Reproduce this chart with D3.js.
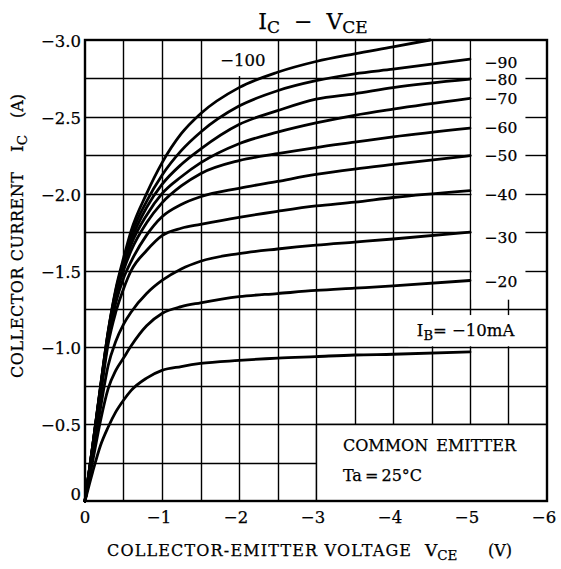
<!DOCTYPE html>
<html><head><meta charset="utf-8">
<script src="https://cdn.jsdelivr.net/npm/d3@7"></script>
<style>
body{margin:0;background:#fff}
svg text{font-family:"DejaVu Serif","Liberation Serif",serif;fill:#000;stroke:#000;stroke-width:0.25}
</style>
</head><body>
<svg id="chart" width="561" height="569"></svg>
<script>
// ---------- data ----------
const vce = [0,0.1,0.2,0.3,0.4,0.5,0.6,0.8,1.0,1.25,1.5,2.0,2.5,3.0,3.5,4.0,5.0];
const vce100 = [0,0.1,0.2,0.3,0.4,0.5,0.6,0.8,1.0,1.25,1.5,2.0,2.5,3.0,3.5,4.0,4.48];
const ibLabels = ["−10","−20","−30","−40","−50","−60","−70","−80","−90","−100"];
const ic10  = [0,0.19,0.36,0.48,0.58,0.656,0.72,0.80,0.85,0.875,0.895,0.915,0.93,0.94,0.95,0.955,0.97];
const ic20  = [0,0.26,0.52,0.73,0.85,0.93,1.01,1.14,1.22,1.265,1.29,1.33,1.35,1.37,1.385,1.40,1.435];
const ic30  = [0,0.30,0.60,0.88,1.04,1.15,1.23,1.35,1.435,1.51,1.56,1.61,1.64,1.665,1.685,1.705,1.75];
const ic40  = [0,0.33,0.68,1.02,1.23,1.38,1.50,1.63,1.727,1.775,1.80,1.846,1.885,1.92,1.945,1.975,2.02];
const ic50  = [0,0.34,0.70,1.05,1.29,1.45,1.56,1.73,1.85,1.93,1.98,2.035,2.08,2.125,2.16,2.19,2.247];
const ic60  = [0,0.35,0.72,1.07,1.33,1.50,1.63,1.81,1.94,2.05,2.13,2.215,2.26,2.30,2.335,2.37,2.427];
const ic70  = [0,0.355,0.73,1.08,1.35,1.53,1.67,1.86,2.0,2.11,2.20,2.325,2.40,2.46,2.51,2.55,2.62];
const ic80  = [0,0.36,0.73,1.09,1.36,1.55,1.70,1.91,2.06,2.19,2.29,2.45,2.54,2.615,2.65,2.69,2.745];
const ic90  = [0,0.36,0.74,1.10,1.37,1.56,1.73,1.95,2.12,2.28,2.40,2.57,2.67,2.735,2.78,2.81,2.875];
const ic100 = [0,0.36,0.74,1.10,1.38,1.58,1.76,2.0,2.2,2.39,2.52,2.69,2.79,2.86,2.91,2.955,3.0];
const xTicks = [0,1,2,3,4,5,6];
const xTickLabels = ["0","−1","−2","−3","−4","−5","−6"];
const yTicks = [0,0.5,1.0,1.5,2.0,2.5,3.0];
const yTickLabels = ["0","−0.5","−1.0","−1.5","−2.0","−2.5","−3.0"];

// ---------- layout ----------
const svg = d3.select("#chart");
const L = 85, R = 547, T = 40, B = 501;
const x = d3.scaleLinear().domain([0,6]).range([L,R]);
const y = d3.scaleLinear().domain([0,3]).range([B,T]);
const px = v => Math.round(x(v)) + 0.5;
const py = v => Math.round(y(v)) + 0.5;

const series = [ic10,ic20,ic30,ic40,ic50,ic60,ic70,ic80,ic90,ic100].map((arr,i)=>({
  label: ibLabels[i],
  pts: arr.map((v,j)=>[ (i===9?vce100:vce)[j], v ])
}));

// grid
const g = svg.append("g").attr("stroke","#000").attr("stroke-width",1.4);
d3.range(1,12).map(k=>k*0.5).forEach(v=>{
  g.append("line").attr("x1",px(v)).attr("x2",px(v)).attr("y1",y(0)).attr("y2",y(3));
});
d3.range(1,12).map(k=>k*0.25).forEach(v=>{
  g.append("line").attr("x1",x(0)).attr("x2",x(6)).attr("y1",py(v)).attr("y2",py(v));
});

// white masks (label backgrounds)
const mask = svg.append("g").attr("fill","#fff");
mask.append("rect").attr("x",x(5)+1.5).attr("y",y(3)+1).attr("width",x(6)-x(5)-3).attr("height",y(1.31)-y(3)-1);
mask.append("rect").attr("x",x(1.73)).attr("y",y(3)+1).attr("width",x(2.38)-x(1.73)).attr("height",y(2.765)-y(3)-1);
mask.append("rect").attr("x",x(4.2)).attr("y",y(1.21)).attr("width",x(5.65)-x(4.2)).attr("height",y(1.007)-y(1.21));
mask.append("rect").attr("x",x(3)).attr("y",y(0.5)).attr("width",x(6)-x(3)).attr("height",y(0)-y(0.5));

// grid stubs at far right in label column + box border
const g2 = svg.append("g").attr("stroke","#000").attr("stroke-width",1.4);
[1.5,1.75,2.0,2.25,2.5,2.75].forEach(v=>{
  g2.append("line").attr("x1",x(5.72)).attr("x2",x(6)).attr("y1",py(v)).attr("y2",py(v));
});
g2.append("line").attr("x1",px(3)).attr("x2",px(3)).attr("y1",y(0)).attr("y2",y(0.5));
g2.append("line").attr("x1",x(3)).attr("x2",x(6)).attr("y1",py(0.5)).attr("y2",py(0.5));

// curves
const line = d3.line().x(d=>x(d[0])).y(d=>y(d[1])).curve(d3.curveMonotoneX);
svg.append("g").selectAll("path").data(series).join("path")
  .attr("d",d=>line(d.pts)).attr("fill","none").attr("stroke","#000")
  .attr("stroke-width",2.8).attr("stroke-linejoin","round").attr("stroke-linecap","round");

// frame
svg.append("rect").attr("x",L).attr("y",T).attr("width",R-L).attr("height",B-T)
  .attr("fill","none").attr("stroke","#000").attr("stroke-width",2.4);

// tick labels
svg.append("g").selectAll("text").data(xTicks).join("text")
  .attr("x",d=>x(d)+(d===0?0:-3)).attr("y",B+22).attr("text-anchor","middle")
  .attr("font-size",16.5).text((d,i)=>xTickLabels[i]);
svg.append("g").selectAll("text").data(yTicks).join("text")
  .attr("x",L-4).attr("y",d=>y(d)+(d===0?-1:7)).attr("text-anchor","end")
  .attr("font-size",16.5).text((d,i)=>yTickLabels[i]);

// curve labels (placed beside each curve end)
const nudge = [0,6.5,11,9.4,5.3,5,5.6,6,9,0];
series.forEach((s,i)=>{
  if(i===0) return;
  const last = s.pts[s.pts.length-1];
  let tx, ty, anchor = "start";
  if(i===9){ tx = x(2.05); ty = y(2.87)+6; anchor = "middle"; }
  else { tx = x(5.19); ty = y(last[1]) + nudge[i]; }
  svg.append("text").attr("x",tx).attr("y",ty).attr("text-anchor",anchor)
    .attr("font-size",i===9?16.5:15.5).text(s.label);
});
// IB label
const ibt = svg.append("text").attr("x",x(4.31)).attr("y",y(1.075)).attr("font-size",16.5);
ibt.append("tspan").text("I");
ibt.append("tspan").attr("font-size",13).attr("dy",4).text("B");
ibt.append("tspan").attr("dy",-4).text("= −10mA");

// box text
svg.append("text").attr("x",x(3.35)).attr("y",y(0.325)).attr("font-size",16)
  .attr("word-spacing",3).text("COMMON EMITTER");
svg.append("text").attr("x",x(3.35)).attr("y",y(0.13)).attr("font-size",16)
  .attr("word-spacing",-2).text("Ta = 25°C");

// title
const tt = svg.append("text").attr("x",313).attr("y",29).attr("text-anchor","middle").attr("font-size",22);
tt.append("tspan").text("I");
tt.append("tspan").attr("font-size",17).attr("dy",4).text("C");
tt.append("tspan").attr("dy",-4).attr("xml:space","preserve").text("  −  V");
tt.append("tspan").attr("font-size",17).attr("dy",4).text("CE");

// x axis title
const xt = svg.append("text").attr("x",107).attr("y",556).attr("font-size",16);
xt.append("tspan").attr("textLength",304).attr("lengthAdjust","spacing").text("COLLECTOR-EMITTER VOLTAGE");
xt.append("tspan").attr("x",425).attr("font-size",17).text("V");
xt.append("tspan").attr("font-size",13.5).attr("dy",4).text("CE");
xt.append("tspan").attr("x",488).attr("dy",-4).attr("font-size",16).text("(V)");

// y axis title
const yt = svg.append("text").attr("transform","translate(23,378) rotate(-90)").attr("font-size",16);
yt.append("tspan").attr("x",0).attr("textLength",206).attr("lengthAdjust","spacing").text("COLLECTOR CURRENT");
yt.append("tspan").attr("x",226).attr("font-size",17).text("I");
yt.append("tspan").attr("font-size",13.5).attr("dy",4).text("C");
yt.append("tspan").attr("x",260).attr("dy",-4).attr("font-size",16).text("(A)");
</script>
</body></html>
